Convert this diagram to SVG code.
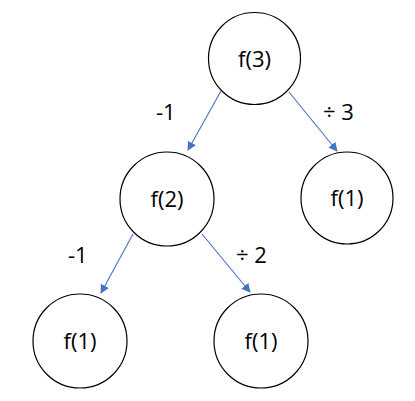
<svg xmlns="http://www.w3.org/2000/svg" width="415" height="401" viewBox="0 0 415 401">
<defs>
<style>
.node circle{fill:#fff;stroke:#000;stroke-width:1.2}
.node text,.lbl{font-family:"Open Sans","Noto Sans",sans-serif;font-size:22px;fill:#000}
.node text{text-anchor:middle}
.edge{stroke:#4472C4;stroke-width:1.1;fill:none;marker-end:url(#ah)}
</style>
<marker id="ah" viewBox="0 0 10 10" refX="9" refY="5" markerWidth="9" markerHeight="9" markerUnits="userSpaceOnUse" orient="auto">
<path d="M0,0 L10,5 L0,10 z" fill="#4472C4"/>
</marker>
</defs>
<rect width="415" height="401" fill="#fff"/>
<g id="connectors">
<line class="edge" x1="221" y1="91" x2="188" y2="150"/>
<line class="edge" x1="289" y1="92" x2="337" y2="151"/>
<line class="edge" x1="133" y1="234" x2="101" y2="293"/>
<line class="edge" x1="202" y1="234" x2="250" y2="292"/>
<text class="lbl" x="156" y="120">-1</text>
<text class="lbl" x="323" y="120">÷ 3</text>
<text class="lbl" x="68" y="263">-1</text>
<text class="lbl" x="236" y="263">÷ 2</text>
</g>
<g id="n-f3" class="node"><circle cx="254.5" cy="58.5" r="46"/><text x="254.5" y="66.5">f(3)</text></g>
<g id="n-f2" class="node"><circle cx="167" cy="199" r="47"/><text x="167" y="207">f(2)</text></g>
<g id="n-f1a" class="node"><circle cx="347" cy="198" r="46"/><text x="347" y="206">f(1)</text></g>
<g id="n-f1b" class="node"><circle cx="80" cy="341" r="47"/><text x="80" y="349">f(1)</text></g>
<g id="n-f1c" class="node"><circle cx="261" cy="341" r="47"/><text x="261" y="349">f(1)</text></g>
</svg>
